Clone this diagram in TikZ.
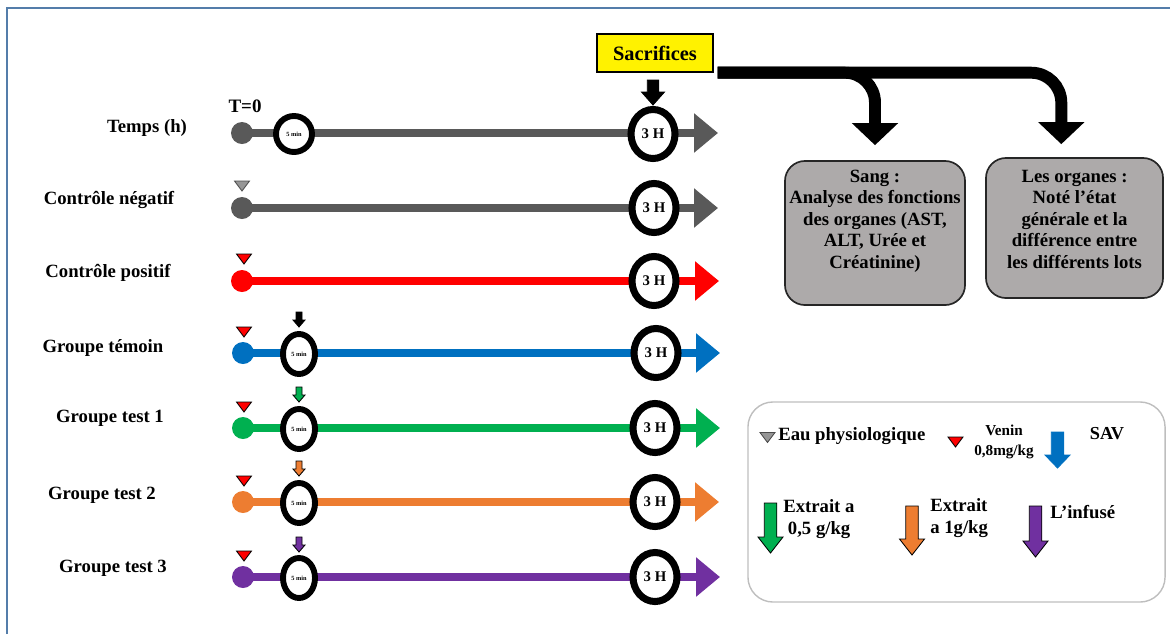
\documentclass[tikz,border=0pt]{standalone}
\usepackage{fontspec}
\setmainfont{Liberation Serif}
\usetikzlibrary{arrows.meta,shapes.geometric,backgrounds}

\definecolor{tgrey}{RGB}{89,89,89}
\definecolor{tred}{RGB}{255,0,0}
\definecolor{tblue}{RGB}{0,112,192}
\definecolor{tgreen}{RGB}{0,176,80}
\definecolor{torange}{RGB}{237,125,49}
\definecolor{tpurple}{RGB}{112,48,160}
\definecolor{markgrey}{RGB}{150,150,150}
\definecolor{boxgrey}{RGB}{173,170,170}
\definecolor{framecol}{RGB}{84,125,170}
\definecolor{legline}{RGB}{190,190,190}

\tikzset{
  rowlabel/.style={font=\bfseries\fontsize{13.3}{15}\selectfont,inner sep=0pt},
  dot/.style={circle,fill=#1,minimum size=0.55cm,inner sep=0pt},
  minring/.style={circle,draw=black,fill=white,line width=4.2pt,
    minimum size=0.9cm,inner sep=0pt,font=\bfseries\fontsize{4.5}{5}\selectfont},
  grpring/.style={ellipse,draw=black,fill=white,line width=4.2pt,
    minimum width=0.8cm,minimum height=1.0cm,inner sep=0pt,
    font=\bfseries\fontsize{4.5}{5}\selectfont},
  hring/.style={ellipse,draw=black,fill=white,line width=5pt,
    minimum width=1.1cm,minimum height=1.225cm,inner sep=0pt,
    font=\bfseries\fontsize{10.5}{12}\selectfont},
  timeline/.style={draw=#1,line width=5.7pt,-{Triangle[length=0.6cm,width=0.95cm]}},
  bigarrow/.style={draw=black,line width=8.5pt,rounded corners=0.75cm,
    -{Triangle[length=0.55cm,width=1.125cm]}},
  organbox/.style={draw=black!85,fill=boxgrey,line width=1.2pt,
    rounded corners=0.5cm,inner sep=0pt,minimum height=3.6cm},
  boxtext/.style={align=center,font=\bfseries\fontsize{13.3}{15.3}\selectfont,inner sep=0pt},
  legtext/.style={font=\bfseries\fontsize{13.3}{15}\selectfont,inner sep=0pt},
  pics/marker/.style={code={
    \path[pic actions,line width=0.6pt] (-7.5,-5) -- (7.5,-5) -- (0,5) -- cycle;}},
  pics/dart/.style n args={3}{code={
    \path[pic actions,line width=0.6pt] (-#1/4,0) -- (#1/4,0) -- (#1/4,#2-#3)
      -- (#1/2,#2-#3) -- (0,#2) -- (-#1/2,#2-#3) -- (-#1/4,#2-#3) -- cycle;}},
}

\begin{document}
\begin{tikzpicture}[x=0.025cm,y=-0.025cm]
  \useasboundingbox (0,0) rectangle (1170,634);
  \draw[framecol,line width=1.4pt] (7,634) -- (7,8) -- (1170,8);

  % row labels
  \node[rowlabel] (lab0) at (147,128) {Temps (h)};
  \node[rowlabel] (lab1) at (109,200) {Contrôle négatif};
  \node[rowlabel] (lab2) at (108,273) {Contrôle positif};
  \node[rowlabel] (lab3) at (103,348) {Groupe témoin};
  \node[rowlabel] (lab4) at (110,418) {Groupe test 1};
  \node[rowlabel] (lab5) at (102,495) {Groupe test 2};
  \node[rowlabel] (lab6) at (113,568) {Groupe test 3};

  % start of each time line
  \node[rowlabel,font=\bfseries\fontsize{13.5}{15}\selectfont] (tzero) at (245,106) {T=0};
  \node[dot=tgrey] (dot0) at (242,133) {};
  \node[dot=tgrey] (dot1) at (242,208) {};
  \node[dot=tred] (dot2) at (242,281) {};
  \node[dot=tblue] (dot3) at (243,353) {};
  \node[dot=tgreen] (dot4) at (243,428) {};
  \node[dot=torange] (dot5) at (243,502) {};
  \node[dot=tpurple] (dot6) at (243,577) {};

  % 5 min
  \node[minring] (min0) at (294,134) {5 min};
  \node[grpring] (min3) at (299,354) {5 min};
  \node[grpring] (min4) at (299,429) {5 min};
  \node[grpring] (min5) at (299,503) {5 min};
  \node[grpring] (min6) at (299,578) {5 min};

  % 3 H
  \node[hring] (h0) at (653,134) {3 H};
  \node[hring] (h1) at (654,208) {3 H};
  \node[hring] (h2) at (654,281) {3 H};
  \node[hring] (h3) at (656,353) {3 H};
  \node[hring] (h4) at (655,428) {3 H};
  \node[hring] (h5) at (655,502) {3 H};
  \node[hring] (h6) at (655,577) {3 H};

  \coordinate (e0) at (718,133);
  \coordinate (e1) at (718,208);
  \coordinate (e2) at (719,281);
  \coordinate (e3) at (720,353);
  \coordinate (e4) at (720,428);
  \coordinate (e5) at (719,502);
  \coordinate (e6) at (720,577);

  \begin{scope}[on background layer]
    \draw[timeline=tgrey] (dot0.center) -- (e0);
    \draw[timeline=tgrey] (dot1.center) -- (e1);
    \draw[timeline=tred] (dot2.center) -- (e2);
    \draw[timeline=tblue] (dot3.center) -- (e3);
    \draw[timeline=tgreen] (dot4.center) -- (e4);
    \draw[timeline=torange] (dot5.center) -- (e5);
    \draw[timeline=tpurple] (dot6.center) -- (e6);
  \end{scope}

  % injections
  \pic[fill=markgrey,draw=black!70] at (242,186) {marker};
  \pic[fill=tred,draw=black] at (244,259) {marker};
  \pic[fill=tred,draw=black] at (244,332) {marker};
  \pic[fill=tred,draw=black] at (244,407) {marker};
  \pic[fill=tred,draw=black] at (244,481) {marker};
  \pic[fill=tred,draw=black] at (244,556) {marker};
  \pic[fill=black,draw=black] at (299,312) {dart={12}{15}{7}};
  \pic[fill=tgreen,draw=black] at (299,387) {dart={12}{15}{7}};
  \pic[fill=torange,draw=black] at (299,461) {dart={12}{15}{7}};
  \pic[fill=tpurple,draw=black] at (299,537) {dart={12}{15}{7}};

  % sacrifices
  \node[draw=black,fill=yellow,line width=1pt,minimum width=2.9cm,minimum height=0.95cm,
    inner sep=0pt,font=\bfseries\fontsize{14.5}{16}\selectfont] (sacr) at (655,53) {Sacrifices};
  \pic[fill=black,draw=black] at (653,80) {dart={23}{25}{13}};

  \node[organbox,minimum width=4.5cm] (sang) at (875,233) {};
  \node[boxtext] (sangtxt) at (875,221)
    {Sang :\\Analyse des fonctions\\des organes (AST,\\ALT, Urée et\\Créatinine)};
  \node[organbox,minimum width=4.425cm,minimum height=3.5cm] (org) at (1074.5,228) {};
  \node[boxtext] (orgtxt) at (1074.5,219)
    {Les organes :\\Noté l’état\\générale et la\\différence entre\\les différents lots};

  \draw[bigarrow] ([xshift=0.1cm]sacr.south east) -| ([yshift=0.375cm]sang.north);
  \draw[bigarrow] ([xshift=0.1cm]sacr.south east) -| ([xshift=-0.33cm,yshift=0.325cm]org.north);

  % legend
  \node[draw=legline,line width=1pt,rounded corners=0.625cm,minimum width=10.425cm,
    minimum height=5cm,inner sep=0pt] (legend) at (956.5,502) {};
  \pic[fill=markgrey,draw=black!70] at (767.5,437.5) {marker};
  \node[legtext,anchor=west] (eau) at (778,436) {Eau physiologique};
  \pic[fill=tred,draw=black] at (955.5,442) {marker};
  \node[legtext,align=center,font=\bfseries\fontsize{10.8}{14}\selectfont] (venin) at (1004,442)
    {Venin\\0,8mg/kg};
  \pic[fill=tblue,draw=tblue] at (1057.5,432) {dart={25}{36}{13}};
  \node[legtext,font=\bfseries\fontsize{13}{15}\selectfont] (sav) at (1107,434) {SAV};
  \pic[fill=tgreen,draw=black] at (770.5,503) {dart={25}{50}{16}};
  \node[legtext,anchor=west,align=left,font=\bfseries\fontsize{13.3}{15.5}\selectfont] (ext1) at (783,519)
    {Extrait a\\\ 0,5 g/kg};
  \pic[fill=torange,draw=black] at (912,506) {dart={25}{49}{16}};
  \node[legtext,anchor=west,align=left,font=\bfseries\fontsize{13.3}{15.5}\selectfont] (ext2) at (930,518)
    {Extrait\\a 1g/kg};
  \pic[fill=tpurple,draw=black] at (1035.5,506) {dart={25}{51}{16}};
  \node[legtext,anchor=west] (inf) at (1050,512) {L’infusé};
\end{tikzpicture}
\end{document}
